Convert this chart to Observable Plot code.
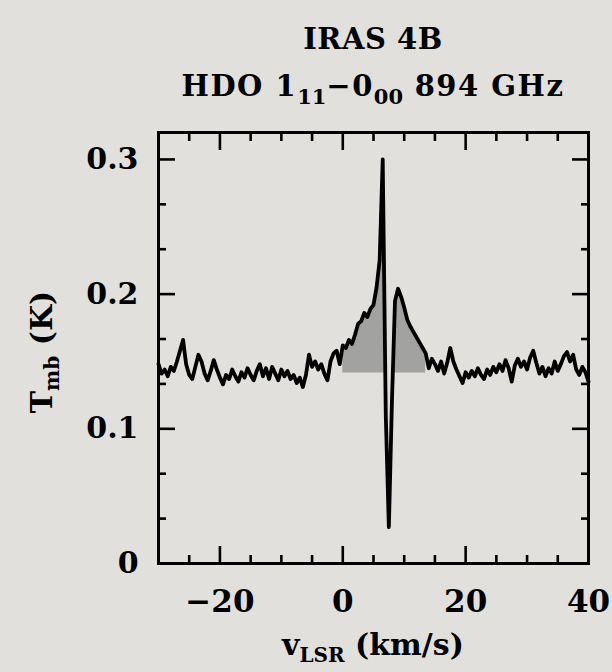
<!DOCTYPE html>
<html><head><meta charset="utf-8">
<script src="https://cdn.jsdelivr.net/npm/d3@7"></script>
<script src="https://cdn.jsdelivr.net/npm/@observablehq/plot@0.6"></script>
<style>
html,body{margin:0;padding:0;background:#e1e0dc;}
body{width:612px;height:672px;overflow:hidden;font-family:"DejaVu Serif",serif;font-weight:bold;color:#000;}
#head{position:relative;height:100px;width:612px;}
#head div{position:absolute;left:158px;width:430px;text-align:center;white-space:nowrap;line-height:1;}
#t1{top:25px;font-size:29px;letter-spacing:0.5px;}
#t2{top:72px;font-size:29px;letter-spacing:1.5px;}
#t2 sub{font-size:21px;vertical-align:-8px;line-height:0;letter-spacing:0;}
#chart svg{display:block;}
</style></head>
<body>
<div id="head"><div id="t1">IRAS 4B</div><div id="t2">HDO 1<sub>11</sub>−0<sub>00</sub> 894 GHz</div></div>
<div id="chart"></div>
<script>
const velocity = [
-30.0,-29.5,-29.0,-28.5,-28.0,-27.5,-27.0,-26.5,-26.0,-25.5,
-25.0,-24.5,-24.0,-23.5,-23.0,-22.5,-22.0,-21.5,-21.0,-20.5,
-20.0,-19.5,-19.0,-18.5,-18.0,-17.5,-17.0,-16.5,-16.0,-15.5,
-15.0,-14.5,-14.0,-13.5,-13.0,-12.5,-12.0,-11.5,-11.0,-10.5,
-10.0,-9.5,-9.0,-8.5,-8.0,-7.5,-7.0,-6.5,-6.0,-5.5,
-5.0,-4.5,-4.0,-3.5,-3.0,-2.5,-2.0,-1.5,-1.0,-0.5,
0.0,0.5,1.0,1.5,2.0,2.5,3.0,3.5,4.0,4.5,
5.0,5.5,6.0,6.5,7.0,7.5,8.0,8.5,9.0,9.5,
10.0,10.5,11.0,11.5,12.0,12.5,13.0,13.5,14.0,14.5,
15.0,15.5,16.0,16.5,17.0,17.5,18.0,18.5,19.0,19.5,
20.0,20.5,21.0,21.5,22.0,22.5,23.0,23.5,24.0,24.5,
25.0,25.5,26.0,26.5,27.0,27.5,28.0,28.5,29.0,29.5,
30.0,30.5,31.0,31.5,32.0,32.5,33.0,33.5,34.0,34.5,
35.0,35.5,36.0,36.5,37.0,37.5,38.0,38.5,39.0,39.5,
40.0];
const tmb = [
0.148,0.141,0.144,0.139,0.146,0.143,0.150,0.158,0.166,0.148,
0.140,0.137,0.146,0.155,0.150,0.141,0.136,0.143,0.151,0.144,
0.138,0.133,0.140,0.137,0.144,0.139,0.135,0.142,0.138,0.145,
0.140,0.136,0.143,0.148,0.139,0.145,0.137,0.146,0.141,0.136,
0.144,0.139,0.143,0.137,0.140,0.134,0.138,0.131,0.140,0.155,
0.146,0.150,0.144,0.148,0.141,0.136,0.150,0.156,0.158,0.148,
0.162,0.160,0.166,0.163,0.170,0.178,0.180,0.186,0.183,0.189,
0.192,0.205,0.225,0.300,0.110,0.027,0.120,0.195,0.204,0.198,
0.190,0.181,0.176,0.172,0.168,0.164,0.160,0.156,0.145,0.152,
0.148,0.143,0.150,0.141,0.149,0.160,0.150,0.144,0.139,0.134,
0.142,0.138,0.143,0.139,0.145,0.140,0.137,0.144,0.140,0.146,
0.142,0.148,0.143,0.151,0.145,0.135,0.147,0.152,0.146,0.150,
0.144,0.153,0.158,0.149,0.141,0.146,0.139,0.145,0.141,0.150,
0.143,0.148,0.154,0.157,0.150,0.155,0.144,0.140,0.146,0.142,
0.135];
const baseline = 0.1415;
const fillRange = [0, 13.5];
const xDomain = [-30, 40];
const yDomain = [0, 0.32];
const xMajor = [-20, 0, 20, 40];
const xMinor = [-25, -15, -10, -5, 5, 10, 15, 25, 30, 35];
const yMajor = [0, 0.1, 0.2, 0.3];
const yMinor = [1/30, 2/30, 4/30, 5/30, 7/30, 8/30];

const data = velocity.map((v, i) => ({v, t: tmb[i]}));
const fillData = data.filter(d => d.v >= fillRange[0] && d.v <= fillRange[1]);

const font = '"DejaVu Serif",serif';
const fmtX = d => d < 0 ? "−" + Math.abs(d) : String(d);
const fmtY = d => d === 0 ? "0" : d.toFixed(1);
const big = 17, small = 8, tw = 2.6;

const plot = Plot.plot({
  width: 612,
  height: 572,
  marginTop: 32,
  marginBottom: 109,
  marginLeft: 158,
  marginRight: 24,
  style: {background: "transparent", fontFamily: font, fontWeight: "bold", fontSize: "30px", color: "#000", overflow: "visible"},
  x: {domain: xDomain},
  y: {domain: yDomain},
  marks: [
    Plot.areaY(fillData, {x: "v", y1: () => baseline, y2: d => Math.max(d.t, baseline), fill: "#a2a2a0"}),
    Plot.line(data, {x: "v", y: "t", stroke: "#000", strokeWidth: 3.8, strokeLinejoin: "round"}),
    Plot.axisX(xMajor, {anchor: "bottom", tickSize: big, dy: -big, tickFormat: () => "", strokeWidth: tw, label: null}),
    Plot.axisX(xMajor, {anchor: "top", tickSize: big, dy: big, tickFormat: () => "", strokeWidth: tw, label: null}),
    Plot.axisX(xMinor, {anchor: "bottom", tickSize: small, dy: -small, tickFormat: () => "", strokeWidth: tw, label: null}),
    Plot.axisX(xMinor, {anchor: "top", tickSize: small, dy: small, tickFormat: () => "", strokeWidth: tw, label: null}),
    Plot.axisX(xMajor, {anchor: "bottom", tickSize: 0, tickPadding: 26, tickFormat: fmtX, fontSize: 31, label: null}),
    Plot.axisY(yMajor, {anchor: "left", tickSize: big, dx: big, tickFormat: () => "", strokeWidth: tw, label: null}),
    Plot.axisY(yMajor, {anchor: "right", tickSize: big, dx: -big, tickFormat: () => "", strokeWidth: tw, label: null}),
    Plot.axisY(yMinor, {anchor: "left", tickSize: small, dx: small, tickFormat: () => "", strokeWidth: tw, label: null}),
    Plot.axisY(yMinor, {anchor: "right", tickSize: small, dx: -small, tickFormat: () => "", strokeWidth: tw, label: null}),
    Plot.axisY(yMajor, {anchor: "left", tickSize: 0, tickPadding: 20, tickFormat: fmtY, fontSize: 30, label: null}),
    Plot.frame({stroke: "#000", strokeWidth: 3})
  ]
});

const svg = d3.select(plot);
const xl = svg.append("text")
  .attr("x", 373).attr("y", 555)
  .attr("text-anchor", "middle")
  .attr("font-family", font).attr("font-weight", "bold").attr("font-size", 30).attr("fill", "#000");
xl.append("tspan").text("v");
xl.append("tspan").attr("font-size", 20).attr("dy", 7).text("LSR");
xl.append("tspan").attr("dy", -7).text(" (km/s)");

const yl = svg.append("text")
  .attr("transform", "translate(52,252) rotate(-90)")
  .attr("text-anchor", "middle")
  .attr("font-family", font).attr("font-weight", "bold").attr("font-size", 30).attr("fill", "#000");
yl.append("tspan").text("T");
yl.append("tspan").attr("font-size", 20).attr("dy", 7).text("mb");
yl.append("tspan").attr("dy", -7).text(" (K)");

document.getElementById("chart").appendChild(plot);
</script>
</body></html>
